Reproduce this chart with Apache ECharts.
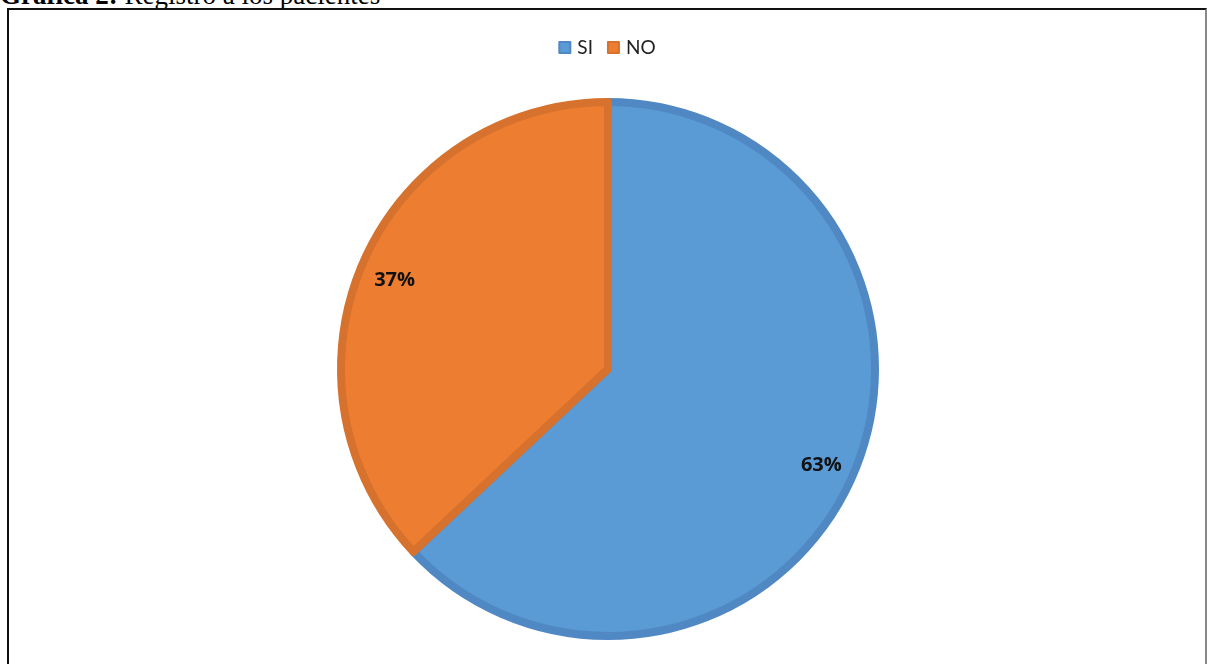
<!DOCTYPE html>
<html>
<head>
<meta charset="utf-8">
<script src="https://cdn.jsdelivr.net/npm/echarts@6/dist/echarts.min.js"></script>
<style>
  html, body { margin: 0; padding: 0; width: 1207px; height: 664px; overflow: hidden; background: #fff; }
  #title { position: absolute; left: 0; top: -18px; font-family: "Liberation Serif", "Times New Roman", serif; font-size: 27px; line-height: 27px; color: #000; white-space: nowrap; }
  #box { position: absolute; left: 7px; top: 8px; width: 1196px; height: 700px; border: 2px solid #111; border-right-color: #888; }
  #chart { width: 1196px; height: 700px; }
</style>
</head>
<body>
<div id="title"><b>Gráfica 2:</b> Registro a los pacientes</div>
<div id="box"><div id="chart"></div></div>
<script>
const categories = ["SI", "NO"];
const values = [63, 37];
const fillColors = ["#5B9BD5", "#ED7D31"];
const borderColors = ["#4F88C2", "#D6722D"];

const data = categories.map((c, i) => ({
  name: c,
  value: values[i],
  itemStyle: { color: fillColors[i], borderColor: borderColors[i] }
}));

const chart = echarts.init(document.getElementById('chart'), null, { renderer: 'canvas' });
chart.setOption({
  animation: false,
  color: fillColors,
  legend: {
    top: 23,
    left: 'center',
    icon: 'rect',
    itemWidth: 11,
    itemHeight: 11,
    itemGap: 14,
    textStyle: { fontFamily: 'Lato, "Open Sans", sans-serif', fontSize: 19, color: '#222', padding: [0, 0, 0, 2] },
    data: categories
  },
  series: [
    {
      type: 'pie',
      center: [599, 359],
      radius: [0, 267],
      startAngle: 90,
      clockwise: true,
      label: { show: false },
      labelLine: { show: false },
      itemStyle: { borderWidth: 8 },
      emphasis: { disabled: true },
      data: data
    },
    {
      type: 'pie',
      center: [599, 359],
      radius: [192, 267],
      startAngle: 90,
      clockwise: true,
      silent: true,
      legendHoverLink: false,
      itemStyle: { color: 'rgba(0,0,0,0)', borderWidth: 0 },
      label: {
        show: true,
        position: 'inside',
        formatter: p => p.value + '%',
        fontFamily: '"Open Sans", "DejaVu Sans", sans-serif',
        fontWeight: 'bold',
        fontSize: 20,
        color: '#111',
        offset: [0, 4]
      },
      labelLine: { show: false },
      emphasis: { disabled: true },
      data: categories.map((c, i) => ({ name: c + ' ', value: values[i] }))
    }
  ]
});
</script>
</body>
</html>
